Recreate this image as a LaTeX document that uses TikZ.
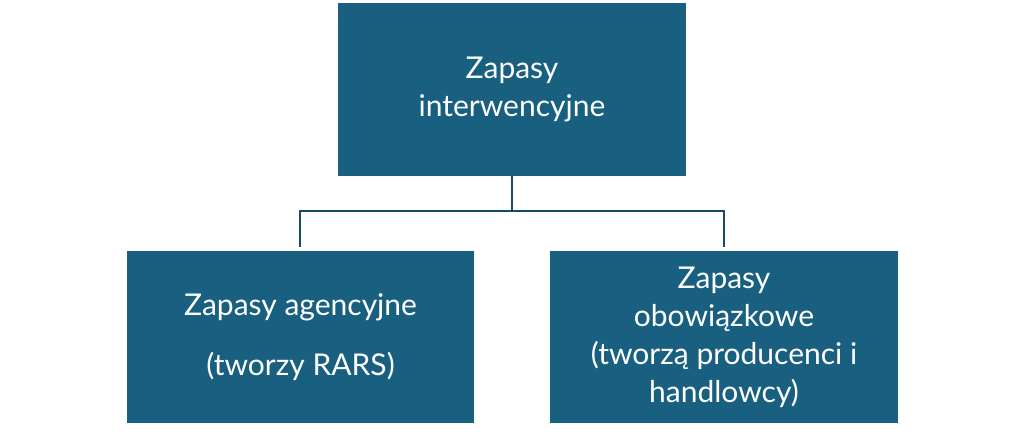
\documentclass[tikz,border=0pt]{standalone}
\usepackage{fontspec}
\setmainfont{Lato}
\definecolor{boxc}{HTML}{185F80}
\begin{document}
\begin{tikzpicture}[x=1pt,y=-1pt,
  box/.style={fill=boxc,draw=none,text=white,align=center,font=\fontsize{30}{38}\selectfont,inner sep=0pt},
  con/.style={draw=boxc!80!black,line width=1.5pt}]
\useasboundingbox (0,0) rectangle (1024,445);
\node[box,minimum width=348,minimum height=173] (top) at (512,89.5) {Zapasy\\interwencyjne};
\node[box,minimum width=347,minimum height=172] (l) at (300.5,337) {Zapasy agencyjne\\[22pt](tworzy RARS)};
\node[box,minimum width=348,minimum height=172] (r) at (724,337) {Zapasy\\obowiązkowe\\(tworzą producenci i\\handlowcy)};
\coordinate (lt) at (300,247);
\coordinate (rt) at (724,247);
\draw[con] (top.south) -- (512,211) -| (lt);
\draw[con] (512,211) -| (rt);
\end{tikzpicture}
\end{document}
